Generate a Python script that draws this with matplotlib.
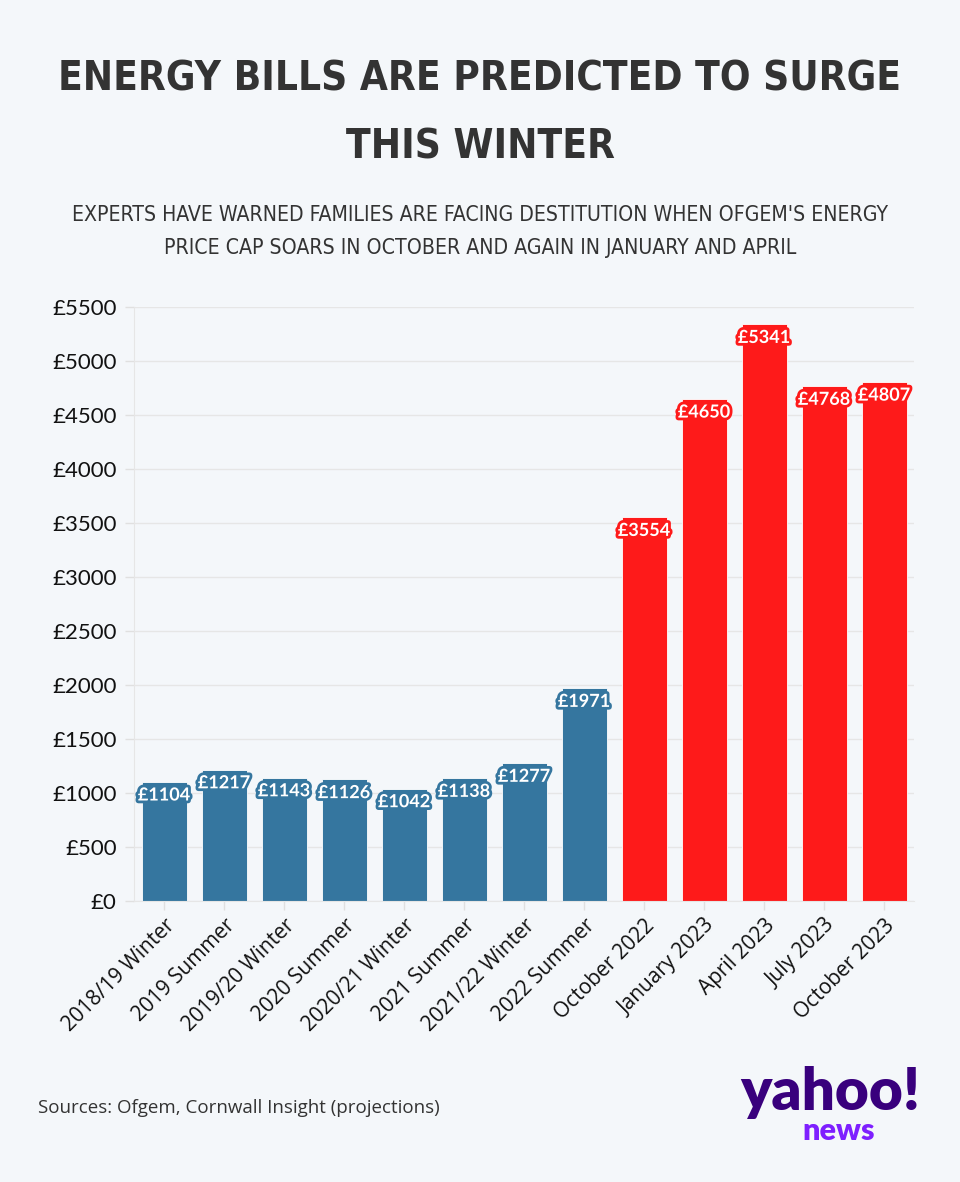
import matplotlib.pyplot as plt
import matplotlib.patheffects as pe

periods = ["2018/19 Winter", "2019 Summer", "2019/20 Winter", "2020 Summer",
           "2020/21 Winter", "2021 Summer", "2021/22 Winter", "2022 Summer",
           "October 2022", "January 2023", "April 2023", "July 2023", "October 2023"]
bills = [1104, 1217, 1143, 1126, 1042, 1138, 1277, 1971,
         3554, 4650, 5341, 4768, 4807]
n_actual = 8  # first 8 are actual, the rest projections

bg = "#f4f7fa"
blue = "#35769f"
red = "#fe1a1a"
colors = [blue] * n_actual + [red] * (len(bills) - n_actual)

fig = plt.figure(figsize=(9.6, 11.82), dpi=100, facecolor=bg)
ax = fig.add_axes([0.1396, 0.2377, 0.8125, 0.5025], facecolor=bg)

x = range(len(bills))
ax.bar(x, bills, width=0.75, color=colors, edgecolor="white", linewidth=0.6, zorder=2)

for i, v in enumerate(bills):
    ax.annotate(f"£{v}", (i, v), xytext=(0, -9.5), textcoords="offset points",
                ha="center", va="center", color="white", fontsize=13,
                fontweight="bold", family="Lato", zorder=3,
                path_effects=[pe.withStroke(linewidth=4, foreground=colors[i])])

ax.set_xlim(-0.5, len(bills) - 0.5)
ax.set_ylim(0, 5500)
ax.set_yticks(range(0, 5501, 500))
ax.set_yticklabels([f"£{t}" for t in range(0, 5501, 500)], fontsize=16, family="Lato",
                   color="#111111")
ax.set_xticks(list(x))
ax.set_xticklabels(periods, rotation=45, ha="right", va="top", rotation_mode="anchor",
                   fontsize=15, family="Open Sans", color="#111111")
ax.grid(axis="y", color="#e6e6e6", linewidth=1, zorder=0)
ax.tick_params(axis="both", color="#e0e0e0", length=6.5, width=1)
ax.tick_params(axis="y", pad=6)
ax.tick_params(axis="x", pad=3.5)
for s in ["top", "right"]:
    ax.spines[s].set_visible(False)
for s in ["left", "bottom"]:
    ax.spines[s].set_color("#e6e6e6")


def fit_width(t, target_px):
    # shrink/grow a text so its width matches the target width in pixels
    r = fig.canvas.get_renderer()
    w = t.get_window_extent(r).width
    t.set_fontsize(t.get_fontsize() * target_px / w)


cond = dict(family="DejaVu Sans", fontstretch="condensed", color="#333333", ha="center",
            va="center")
t1 = fig.text(0.5, 0.933, "ENERGY BILLS ARE PREDICTED TO SURGE", fontsize=30,
              fontweight="bold", **cond)
fit_width(t1, 840)
t2 = fig.text(0.5, 0.8748, "THIS WINTER", fontsize=t1.get_fontsize(), fontweight="bold", **cond)
s1 = fig.text(0.5, 0.818, "EXPERTS HAVE WARNED FAMILIES ARE FACING DESTITUTION WHEN OFGEM'S ENERGY",
              fontsize=15, **cond)
fit_width(s1, 822)
s2 = fig.text(0.5, 0.790, "PRICE CAP SOARS IN OCTOBER AND AGAIN IN JANUARY AND APRIL",
              fontsize=s1.get_fontsize(), **cond)

fig.text(0.04, 0.0625, "Sources: Ofgem, Cornwall Insight (projections)", ha="left",
         va="center", fontsize=13.5, family="Open Sans", color="#333333")
fig.text(0.865, 0.0755, "yahoo!", ha="center", va="center", fontsize=42,
         fontweight="heavy", family="Lato", color="#39007d")
fig.text(0.874, 0.0435, "news", ha="center", va="center", fontsize=22,
         fontweight="heavy", family="Lato", color="#7e1fff")

fig.savefig("out.png", dpi=100, facecolor=bg)
